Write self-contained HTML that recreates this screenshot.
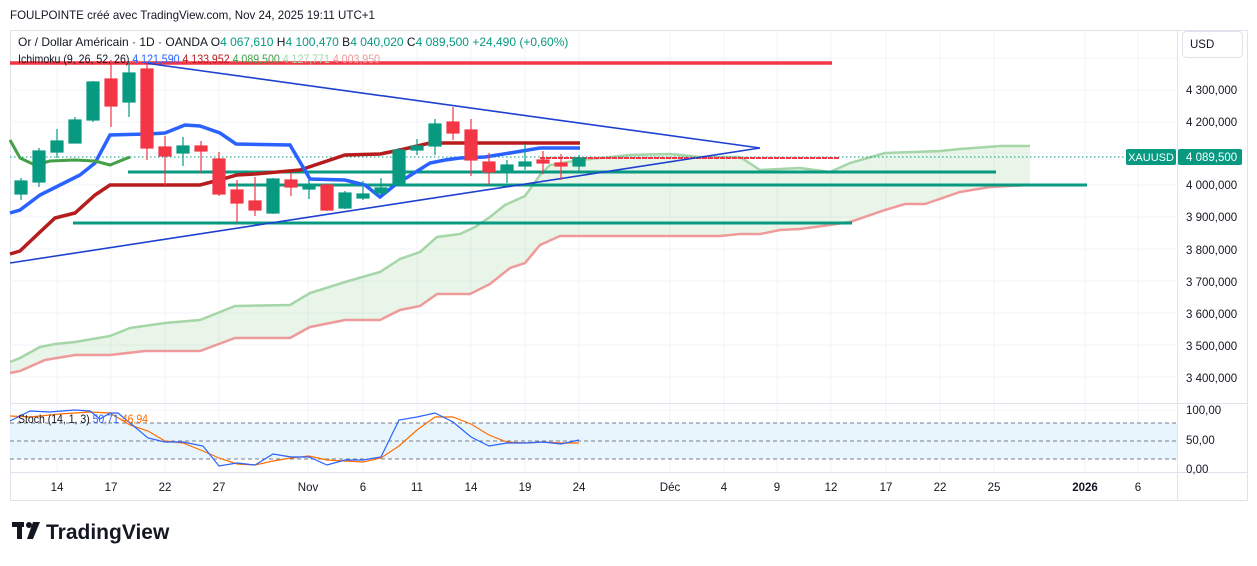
<!DOCTYPE html>
<html><head><meta charset="utf-8"><style>
body{margin:0;background:#fff;width:1257px;height:561px;overflow:hidden;font-family:"Liberation Sans",sans-serif}
</style></head><body>
<svg width="1257" height="561" xmlns="http://www.w3.org/2000/svg" font-family="Liberation Sans, sans-serif">
<rect width="1257" height="561" fill="#fff"/>
<text x="10" y="19" font-size="11.6" fill="#131722" textLength="365" lengthAdjust="spacingAndGlyphs">FOULPOINTE créé avec TradingView.com, Nov 24, 2025 19:11 UTC+1</text>
<rect x="10.5" y="30.5" width="1237" height="470" fill="none" stroke="#e0e3eb"/>
<g stroke="#f0f3fa" stroke-width="1">
<line x1="57" y1="31" x2="57" y2="472"/><line x1="111" y1="31" x2="111" y2="472"/><line x1="165" y1="31" x2="165" y2="472"/><line x1="219" y1="31" x2="219" y2="472"/><line x1="308" y1="31" x2="308" y2="472"/><line x1="363" y1="31" x2="363" y2="472"/><line x1="417" y1="31" x2="417" y2="472"/><line x1="471" y1="31" x2="471" y2="472"/><line x1="525" y1="31" x2="525" y2="472"/><line x1="579" y1="31" x2="579" y2="472"/><line x1="670" y1="31" x2="670" y2="472"/><line x1="724" y1="31" x2="724" y2="472"/><line x1="777" y1="31" x2="777" y2="472"/><line x1="831" y1="31" x2="831" y2="472"/><line x1="886" y1="31" x2="886" y2="472"/><line x1="940" y1="31" x2="940" y2="472"/><line x1="994" y1="31" x2="994" y2="472"/><line x1="1085" y1="31" x2="1085" y2="472"/><line x1="1138" y1="31" x2="1138" y2="472"/>
<line x1="10" y1="58" x2="1177" y2="58"/><line x1="10" y1="90" x2="1177" y2="90"/><line x1="10" y1="122" x2="1177" y2="122"/><line x1="10" y1="153" x2="1177" y2="153"/><line x1="10" y1="185" x2="1177" y2="185"/><line x1="10" y1="217" x2="1177" y2="217"/><line x1="10" y1="249" x2="1177" y2="249"/><line x1="10" y1="281" x2="1177" y2="281"/><line x1="10" y1="313" x2="1177" y2="313"/><line x1="10" y1="345" x2="1177" y2="345"/><line x1="10" y1="377" x2="1177" y2="377"/>
<line x1="10" y1="410" x2="1177" y2="410"/>
</g>
<line x1="10" y1="403.5" x2="1247" y2="403.5" stroke="#e0e3eb"/>
<line x1="10" y1="472.5" x2="1247" y2="472.5" stroke="#e0e3eb"/>
<line x1="1177.5" y1="31" x2="1177.5" y2="500" stroke="#e0e3eb"/>
<polygon fill="rgba(76,175,80,0.13)" points="10,362 20,358 40,347 55,344 75,342 110,336 130,328 165,323 200,320 235,306 290,305 310,293 345,282 380,272 400,259 420,252 437,237 460,234 475,227 490,217 505,205 525,196 540,175 550,165 580,160 630,155 670,154 700,157 740,157 760,170 800,168 830,172 850,163 885,153 940,151 960,149 1000,146 1030,146 1030,185 990,187 960,192 925,204 905,204 885,210 850,222 830,225 800,229 780,230 740,234 720,236 560,236 540,245 525,263 510,268 490,284 470,294 437,294 420,306 400,310 380,320 345,320 310,327 290,338 235,338 200,351 145,351 110,355 75,355 45,360 20,371 10,373"/>
<polyline fill="none" stroke="#a5d6a7" stroke-width="2.5" points="10,362 20,358 40,347 55,344 75,342 110,336 130,328 165,323 200,320 235,306 290,305 310,293 345,282 380,272 400,259 420,252 437,237 460,234 475,227 490,217 505,205 525,196 540,175 550,165 580,160 630,155 670,154 700,157 740,157 760,170 800,168 830,172 850,163 885,153 940,151 960,149 1000,146 1030,146"/>
<polyline fill="none" stroke="#ef9a9a" stroke-width="2.5" points="10,373 20,371 45,360 75,355 110,355 145,351 200,351 235,338 290,338 310,327 345,320 380,320 400,310 420,306 437,294 470,294 490,284 510,268 525,263 540,245 560,236 720,236 740,234 760,234 780,230 800,229 830,225 850,222 885,210 905,204 925,204 960,192 990,187 1030,185"/>
<line x1="10" y1="157" x2="1125" y2="157" stroke="#089981" stroke-dasharray="1.5,2.5" stroke-width="1"/>
<line x1="540" y1="158" x2="840" y2="158" stroke="#f23645" stroke-width="2" stroke-dasharray="5,1"/>
<line x1="10" y1="63" x2="832" y2="63" stroke="#f23645" stroke-width="3.5"/>
<line x1="128" y1="172" x2="996" y2="172" stroke="#089981" stroke-width="3"/>
<line x1="228" y1="185" x2="1087" y2="185" stroke="#089981" stroke-width="3"/>
<line x1="73" y1="223" x2="852" y2="223" stroke="#089981" stroke-width="3"/>
<line x1="145" y1="63" x2="760" y2="148" stroke="#1e40d0" stroke-width="1.6"/>
<line x1="10" y1="263" x2="760" y2="148" stroke="#1e40d0" stroke-width="1.6"/>
<polyline fill="none" stroke="#b71c1c" stroke-width="3.5" points="10,254 20,251 40,232 55,218 75,213 95,195 110,185 147,185 200,185 219,180 237,175 255,174 300,170 345,155 380,154 400,150 430,143 580,143"/>
<polyline fill="none" stroke="#2962ff" stroke-width="3.5" points="10,213 20,210 40,195 60,185 80,175 95,163 110,135 148,134 165,133 185,125 200,126 220,133 236,144 290,145 310,179 345,180 365,185 380,197 395,185 430,163 445,160 460,158 485,157 510,153 540,148 580,148"/>
<polyline fill="none" stroke="#43a047" stroke-width="3" points="10,140 20,158 35,165 50,161 75,160 95,161 110,165 130,157"/>
<g stroke-width="1.2">
<g stroke="#089981" fill="#089981">
<line x1="21" y1="178" x2="21" y2="200"/><rect x="15" y="181" width="12" height="13"/>
<line x1="39" y1="148" x2="39" y2="187"/><rect x="33" y="151" width="12" height="31"/>
<line x1="57" y1="129" x2="57" y2="158"/><rect x="51" y="141" width="12" height="11"/>
<line x1="75" y1="117" x2="75" y2="143"/><rect x="69" y="120" width="12" height="23"/>
<line x1="93" y1="81" x2="93" y2="122"/><rect x="87" y="82" width="12" height="38"/>
<line x1="129" y1="62" x2="129" y2="117"/><rect x="123" y="73" width="12" height="29"/>
<line x1="183" y1="137" x2="183" y2="166"/><rect x="177" y="146" width="12" height="7"/>
<line x1="273" y1="178" x2="273" y2="214"/><rect x="267" y="179" width="12" height="34"/>
<line x1="309" y1="180" x2="309" y2="199"/><rect x="303" y="187" width="12" height="2"/>
<line x1="345" y1="191" x2="345" y2="209"/><rect x="339" y="193" width="12" height="15"/>
<line x1="363" y1="181" x2="363" y2="200"/><rect x="357" y="194" width="12" height="4"/>
<line x1="381" y1="178" x2="381" y2="195"/><rect x="375" y="188" width="12" height="5"/>
<line x1="399" y1="148" x2="399" y2="186"/><rect x="393" y="150" width="12" height="35"/>
<line x1="417" y1="139" x2="417" y2="155"/><rect x="411" y="146" width="12" height="4"/>
<line x1="435" y1="119" x2="435" y2="155"/><rect x="429" y="124" width="12" height="22"/>
<line x1="507" y1="160" x2="507" y2="183"/><rect x="501" y="165" width="12" height="6"/>
<line x1="525" y1="144" x2="525" y2="170"/><rect x="519" y="162" width="12" height="4"/>
<line x1="579" y1="155" x2="579" y2="171"/><rect x="573" y="158" width="12" height="8"/>
</g>
<g stroke="#f23645" fill="#f23645">
<line x1="111" y1="60" x2="111" y2="127"/><rect x="105" y="79" width="12" height="27"/>
<line x1="147" y1="62" x2="147" y2="160"/><rect x="141" y="69" width="12" height="79"/>
<line x1="165" y1="136" x2="165" y2="185"/><rect x="159" y="147" width="12" height="9"/>
<line x1="201" y1="141" x2="201" y2="173"/><rect x="195" y="146" width="12" height="5"/>
<line x1="219" y1="152" x2="219" y2="196"/><rect x="213" y="159" width="12" height="35"/>
<line x1="237" y1="180" x2="237" y2="222"/><rect x="231" y="190" width="12" height="13"/>
<line x1="255" y1="177" x2="255" y2="216"/><rect x="249" y="201" width="12" height="9"/>
<line x1="291" y1="173" x2="291" y2="196"/><rect x="285" y="180" width="12" height="7"/>
<line x1="327" y1="184" x2="327" y2="211"/><rect x="321" y="185" width="12" height="25"/>
<line x1="453" y1="107" x2="453" y2="140"/><rect x="447" y="122" width="12" height="11"/>
<line x1="471" y1="119" x2="471" y2="176"/><rect x="465" y="130" width="12" height="30"/>
<line x1="489" y1="153" x2="489" y2="185"/><rect x="483" y="162" width="12" height="10"/>
<line x1="543" y1="151" x2="543" y2="174"/><rect x="537" y="160" width="12" height="3"/>
<line x1="561" y1="154" x2="561" y2="180"/><rect x="555" y="163" width="12" height="3"/>
</g></g>
<text x="18" y="46" font-size="12" fill="#131722">Or / Dollar Américain · 1D · OANDA <tspan>O</tspan><tspan fill="#089981">4 067,610</tspan> H<tspan fill="#089981">4 100,470</tspan> B<tspan fill="#089981">4 040,020</tspan> C<tspan fill="#089981">4 089,500</tspan> <tspan fill="#089981">+24,490 (+0,60%)</tspan></text>
<text x="18" y="63" font-size="12" fill="#131722" textLength="362" lengthAdjust="spacingAndGlyphs">Ichimoku (9, 26, 52, 26) <tspan fill="#2962ff">4 121,590</tspan> <tspan fill="#b71c1c">4 133,952</tspan> <tspan fill="#43a047">4 089,500</tspan> <tspan fill="#a5d6a7">4 127,771</tspan> <tspan fill="#ef9a9a">4 003,950</tspan></text>
<g font-size="11.5" fill="#131722">
<text x="1186" y="94">4 300,000</text><text x="1186" y="126">4 200,000</text><text x="1186" y="189">4 000,000</text><text x="1186" y="221">3 900,000</text><text x="1186" y="254">3 800,000</text><text x="1186" y="286">3 700,000</text><text x="1186" y="318">3 600,000</text><text x="1186" y="350">3 500,000</text><text x="1186" y="382">3 400,000</text>
<text x="1186" y="414">100,00</text><text x="1186" y="444">50,00</text><text x="1186" y="473">0,00</text>
</g>
<rect x="1182.5" y="31.5" width="60" height="26" rx="4" fill="#fff" stroke="#e0e3eb"/>
<text x="1190" y="48" font-size="11.5" fill="#131722">USD</text>
<rect x="1126" y="149" width="50" height="16" rx="2" fill="#089981"/>
<text x="1151" y="161" font-size="11" fill="#fff" text-anchor="middle">XAUUSD</text>
<rect x="1178" y="149" width="64" height="16" rx="2" fill="#089981"/>
<text x="1186" y="161" font-size="11.5" fill="#fff">4 089,500</text>
<rect x="10" y="423" width="1167" height="36" fill="#e3f2fd" opacity="0.8"/>
<g stroke="#787b86" stroke-dasharray="4,3" stroke-width="1">
<line x1="10" y1="423" x2="1177" y2="423"/><line x1="10" y1="441" x2="1177" y2="441"/><line x1="10" y1="459" x2="1177" y2="459"/></g>
<polyline fill="none" stroke="#ff6d00" stroke-width="1.2" points="10,416 30,417 60,414 90,412 110,413 130,425 148,431 165,441 183,443 203,451 219,458 237,464 255,465 273,461 291,458 309,456 327,460 345,461 363,462 381,458 399,446 417,430 435,417 453,417 471,424 489,435 507,442 525,443 543,442 561,443 579,443"/>
<polyline fill="none" stroke="#2962ff" stroke-width="1.2" points="10,421 30,411 50,412 62,411 75,410 90,411 100,419 110,413 118,413 148,438 165,442 183,442 203,446 219,466 237,463 255,465 273,454 291,457 309,457 327,465 345,460 363,460 381,457 399,420 417,417 435,413 453,422 471,437 489,446 507,443 525,443 543,442 561,444 579,440"/>
<text x="18" y="423" font-size="12" fill="#131722" textLength="130" lengthAdjust="spacingAndGlyphs">Stoch (14, 1, 3) <tspan fill="#2962ff">50,71</tspan> <tspan fill="#ff6d00">46,94</tspan></text>
<g font-size="11.5" fill="#131722" text-anchor="middle">
<text x="57" y="491">14</text><text x="111" y="491">17</text><text x="165" y="491">22</text><text x="219" y="491">27</text><text x="308" y="491">Nov</text><text x="363" y="491">6</text><text x="417" y="491">11</text><text x="471" y="491">14</text><text x="525" y="491">19</text><text x="579" y="491">24</text><text x="670" y="491">Déc</text><text x="724" y="491">4</text><text x="777" y="491">9</text><text x="831" y="491">12</text><text x="886" y="491">17</text><text x="940" y="491">22</text><text x="994" y="491">25</text><text x="1085" y="491" font-weight="bold">2026</text><text x="1138" y="491">6</text>
</g>
<g fill="#131722">
<rect x="12" y="522" width="12" height="5"/><rect x="17" y="522" width="5" height="17"/>
<circle cx="29" cy="525" r="3"/><polygon points="33,522 40,522 33,539 27,539"/>
<text x="46" y="539" font-size="21" font-weight="bold">TradingView</text>
</g>
</svg>
</body></html>
